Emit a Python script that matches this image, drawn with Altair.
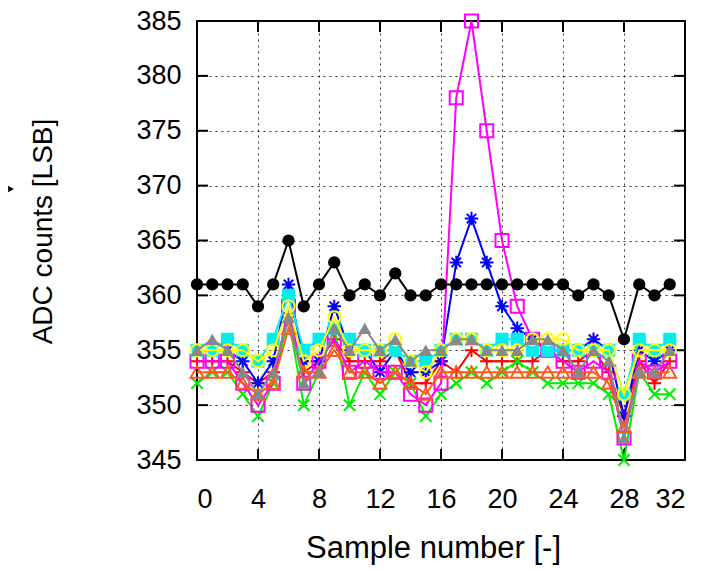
import altair as alt
import pandas as pd

samples = list(range(32))

red_plus = [354, 354, 354, 353, 352, 353, 358, 353, 354, 356, 354, 354, 354, 355, 352, 352,
            354, 353, 355, 354, 354, 354, 354, 355, 354, 354, 355, 353, 349, 354, 352, 354]
green_x = [352, 353, 353, 351, 349, 352, 358, 350, 353, 357, 350, 353, 351, 353, 352, 349,
           351, 352, 353, 352, 353, 354, 353, 352, 352, 352, 352, 351, 345, 353, 351, 351]
blue_star = [355, 355, 355, 354, 352, 354, 361, 354, 354, 359, 355, 355, 353, 355, 353, 353,
             354, 363, 367, 363, 359, 357, 356, 355, 355, 355, 356, 355, 349, 355, 354, 355]
magenta_sq = [354, 354, 354, 352, 350, 352, 359, 352, 354, 356, 353, 354, 353, 353, 351, 350,
              352, 378, 385, 375, 365, 359, 356, 355, 354, 353, 354, 353, 347, 354, 353, 354]
cyan_fsq = [355, 355, 356, 355, 354, 356, 360, 355, 356, 357, 356, 355, 355, 355, 354, 354,
            355, 356, 356, 355, 356, 356, 355, 355, 355, 355, 355, 355, 351, 356, 355, 356]
yellow_circ = [355, 355, 355, 355, 354, 355, 359, 354, 355, 358, 355, 355, 355, 356, 354, 353,
               355, 356, 356, 355, 355, 355, 356, 356, 356, 355, 355, 355, 351, 355, 355, 355]
black_fcirc = [361, 361, 361, 361, 359, 361, 365, 359, 361, 363, 360, 361, 360, 362, 360, 360,
               361, 361, 361, 361, 361, 361, 361, 361, 361, 360, 361, 360, 356, 361, 360, 361]
orange_tri = [353, 353, 353, 352, 351, 352, 357, 353, 353, 355, 353, 353, 352, 353, 352, 351,
              353, 353, 353, 353, 353, 353, 353, 353, 353, 353, 353, 352, 348, 353, 353, 353]
grey_ftri = [355, 356, 355, 353, 351, 353, 358, 352, 353, 357, 355, 357, 355, 356, 354, 355,
             355, 356, 356, 355, 355, 355, 356, 356, 355, 353, 355, 354, 347, 353, 353, 355]

x_ticks = [0, 4, 8, 12, 16, 20, 24, 28, 32]
y_ticks = [345, 350, 355, 360, 365, 370, 375, 380, 385]

PLUS = "M-1,0L1,0M0,-1L0,1"
CROSS = "M-1,-1L1,1M-1,1L1,-1"
STAR = "M-1,0L1,0M0,-1L0,1M-0.7,-0.7L0.7,0.7M-0.7,0.7L0.7,-0.7"

series = [
    (red_plus, "#ff0000", PLUS, False, 180),
    (green_x, "#00ee00", CROSS, False, 130),
    (blue_star, "#0000ff", STAR, False, 180),
    (magenta_sq, "#ff00ff", "square", False, 170),
    (cyan_fsq, "#00eeee", "square", True, 170),
    (yellow_circ, "#ffff00", "circle", False, 150),
    (black_fcirc, "#000000", "circle", True, 150),
    (orange_tri, "#ff5a1e", "triangle-up", False, 170),
    (grey_ftri, "#888888", "triangle-up", True, 170),
]

W, H = 488, 439
xs = alt.Scale(domain=[0, 32], nice=False)
ys = alt.Scale(domain=[345, 385], nice=False)

x_axis = alt.Axis(values=x_ticks, title="Sample number [-]", grid=True,
                  labelPadding=26, titlePadding=21, titleFontSize=31, titleX=236)
y_axis = alt.Axis(values=y_ticks, title="ADC counts [LSB]", grid=True,
                  labelPadding=16, titlePadding=78, titleFontSize=28, titleY=210)

grid_df = pd.DataFrame({"x": x_ticks})
gy_df = pd.DataFrame({"y": y_ticks})

layers = []

# inward ticks on all four sides
tk = 11
layers.append(alt.Chart(grid_df).mark_rule(color="black", strokeWidth=2).encode(
    x=alt.X("x:Q", scale=xs, axis=x_axis), y=alt.value(H), y2=alt.value(H - tk)))
layers.append(alt.Chart(grid_df).mark_rule(color="black", strokeWidth=2).encode(
    x=alt.X("x:Q", scale=xs, axis=x_axis), y=alt.value(0), y2=alt.value(tk)))
layers.append(alt.Chart(gy_df).mark_rule(color="black", strokeWidth=2).encode(
    y=alt.Y("y:Q", scale=ys, axis=y_axis), x=alt.value(0), x2=alt.value(tk)))
layers.append(alt.Chart(gy_df).mark_rule(color="black", strokeWidth=2).encode(
    y=alt.Y("y:Q", scale=ys, axis=y_axis), x=alt.value(W - tk), x2=alt.value(W)))

for vals, color, shape, filled, size in series:
    df = pd.DataFrame({"sample": samples, "adc": vals})
    enc = dict(x=alt.X("sample:Q", scale=xs, axis=x_axis),
               y=alt.Y("adc:Q", scale=ys, axis=y_axis))
    layers.append(alt.Chart(df).mark_line(color=color, strokeWidth=2).encode(**enc))
    if filled:
        pt = alt.Chart(df).mark_point(shape=shape, filled=True, fill=color, color=color,
                                      size=size, opacity=1)
    else:
        pt = alt.Chart(df).mark_point(shape=shape, filled=False, color=color,
                                      size=size, strokeWidth=2, opacity=1)
    layers.append(pt.encode(**enc))

# small arrowhead at the left edge of the figure
layers.append(alt.Chart(pd.DataFrame({"a": [0]})).mark_point(
    shape="triangle-right", filled=True, color="black", size=45, opacity=1
).encode(x=alt.value(-186), y=alt.value(168)))

chart = alt.layer(*layers).properties(
    width=W, height=H,
    autosize=alt.AutoSizeParams(type="none"),
    padding={"left": 189, "top": 13, "right": 20, "bottom": 110}
).configure_view(
    stroke="black", strokeWidth=2
).configure_axis(
    domain=False, ticks=False, labelFont="Liberation Sans", titleFont="Liberation Sans",
    labelFontSize=27, titleFontWeight="normal", labelColor="black",
    titleColor="black", gridColor="black", gridDash=[2, 4], gridWidth=1, gridOpacity=0.8
)

chart.save("out.html", embed_options={"renderer": "svg", "actions": False})
